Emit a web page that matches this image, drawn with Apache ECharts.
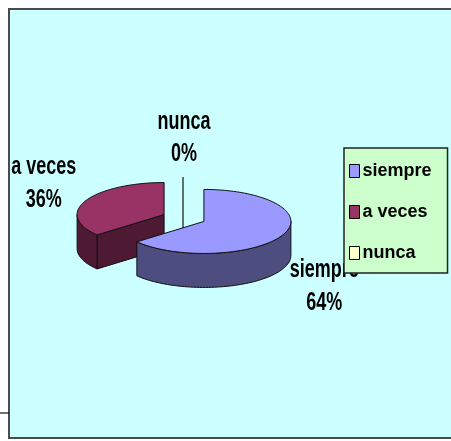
<!DOCTYPE html>
<html>
<head>
<meta charset="utf-8">
<script src="https://cdn.jsdelivr.net/npm/echarts@6/dist/echarts.min.js"></script>
<style>
  html, body { margin: 0; padding: 0; background: #fff; }
  #chart { width: 451px; height: 441px; }
</style>
</head>
<body>
<div id="chart"></div>
<script>
var categories = ['siempre', 'a veces', 'nunca']
var values = [64, 36, 0]

var topColors = ['#9999ff', '#993366', '#ffffcc']
var sideColors = ['#4d4d80', '#4d1933', '#808066']

// pie geometry (pixels)
var CX = 184
var CY = 218
var RX = 87
var RY = 32
var DEPTH = 34
var EXPLODE = 22
var LABEL_RX = 155
var LABEL_RY = 80
var TEXT_STRETCH = 1.4
var LABEL_FONT = 'bold 18px "Liberation Sans", Arial, sans-serif'

var total = values.reduce(function (a, b) { return a + b }, 0)

function sliceAngles(i) {
  var before = 0
  for (var k = 0; k < i; k++) before += values[k]
  var a0 = before / total * Math.PI * 2
  var a1 = (before + values[i]) / total * Math.PI * 2
  return { a0: a0, a1: a1, mid: (a0 + a1) / 2 }
}

function pt(cx, cy, a, dy) {
  return [cx + RX * Math.sin(a), cy - RY * Math.cos(a) + (dy || 0)]
}

function arcPts(cx, cy, from, to, dy) {
  var pts = []
  var n = Math.max(2, Math.ceil(Math.abs(to - from) / (Math.PI / 90)))
  for (var s = 0; s <= n; s++) {
    pts.push(pt(cx, cy, from + (to - from) * s / n, dy))
  }
  return pts
}

function renderSlice(idx) {
  return function (params, api) {
    var ang = sliceAngles(idx)
    var ox = EXPLODE * Math.sin(ang.mid)
    var oy = -EXPLODE * Math.cos(ang.mid) * RY / RX
    var cx = CX + ox
    var cy = CY + oy
    var top = topColors[idx]
    var side = sideColors[idx]
    var edge = { stroke: '#111', lineWidth: 1 }
    var children = []

    if (values[idx] > 0) {
      // cut face at start angle
      if (Math.cos(ang.a0 - Math.PI / 2) < -0.01) {
        children.push({
          type: 'polygon',
          shape: { points: [[cx, cy], pt(cx, cy, ang.a0), pt(cx, cy, ang.a0, DEPTH), [cx, cy + DEPTH]] },
          style: Object.assign({ fill: side }, edge)
        })
      }
      // cut face at end angle
      if (Math.cos(ang.a1 + Math.PI / 2) < -0.01) {
        children.push({
          type: 'polygon',
          shape: { points: [[cx, cy], pt(cx, cy, ang.a1), pt(cx, cy, ang.a1, DEPTH), [cx, cy + DEPTH]] },
          style: Object.assign({ fill: side }, edge)
        })
      }
      // outer wall, front half only
      var w0 = Math.max(ang.a0, Math.PI / 2)
      var w1 = Math.min(ang.a1, Math.PI * 1.5)
      if (w1 > w0) {
        var upper = arcPts(cx, cy, w0, w1, 0)
        var lower = arcPts(cx, cy, w1, w0, DEPTH)
        children.push({
          type: 'polygon',
          shape: { points: upper.concat(lower) },
          style: Object.assign({ fill: side }, edge)
        })
      }
      // top face
      children.push({
        type: 'polygon',
        shape: { points: [[cx, cy]].concat(arcPts(cx, cy, ang.a0, ang.a1, 0)) },
        style: Object.assign({ fill: top }, edge)
      })
    }

    // label
    var lx = CX + LABEL_RX * Math.sin(ang.mid)
    var ly = CY - LABEL_RY * Math.cos(ang.mid) + LABEL_RY * Math.max(0, -Math.cos(ang.mid))
    var pct = Math.round(values[idx] / total * 100) + '%'
    if (values[idx] === 0) {
      children.push({
        type: 'line',
        shape: { x1: cx - 1, y1: ly + 39, x2: cx - 1, y2: CY + 14 },
        style: { stroke: '#111', lineWidth: 1.2 }
      })
    }
    children.push({
      type: 'text',
      x: lx,
      y: ly,
      scaleY: TEXT_STRETCH,
      style: {
        text: categories[idx] + '\n' + pct,
        font: LABEL_FONT,
        fill: '#000',
        align: 'center',
        textAlign: 'center',
        verticalAlign: 'middle',
        textVerticalAlign: 'middle',
        lineHeight: 23.5
      }
    })
    return { type: 'group', children: children }
  }
}

var series = categories.map(function (name, i) {
  var ang = sliceAngles(i)
  var front = -Math.cos(ang.mid)
  return {
    name: name,
    type: 'custom',
    coordinateSystem: 'none',
    z: front > 0.2 ? 4 : 2,
    silent: true,
    itemStyle: { color: topColors[i] },
    data: [values[i]],
    renderItem: renderSlice(i)
  }
})

var chart = echarts.init(document.getElementById('chart'))
chart.setOption({
  animation: false,
  backgroundColor: '#ffffff',
  graphic: [
    {
      type: 'rect',
      z: -10,
      shape: { x: 9, y: 9, width: 460, height: 429 },
      style: { fill: '#ccffff', stroke: '#4a4a4a', lineWidth: 2 }
    },
    {
      type: 'line',
      z: -10,
      shape: { x1: 0, y1: 413, x2: 9, y2: 413 },
      style: { stroke: '#111', lineWidth: 1.2 }
    }
  ],
  legend: {
    orient: 'vertical',
    left: 344,
    top: 148,
    z: 10,
    padding: [14, 16, 11, 5],
    itemGap: 23,
    itemWidth: 10,
    itemHeight: 13,
    icon: 'rect',
    backgroundColor: '#ccffcc',
    borderColor: '#222',
    borderWidth: 1.5,
    selectedMode: false,
    itemStyle: { borderColor: '#000', borderWidth: 1 },
    textStyle: {
      fontFamily: '"Liberation Sans", Arial, sans-serif',
      fontWeight: 'bold',
      fontSize: 18,
      color: '#000',
      padding: [0, 0, 0, -2]
    },
    data: categories
  },
  series: series
})
</script>
</body>
</html>
